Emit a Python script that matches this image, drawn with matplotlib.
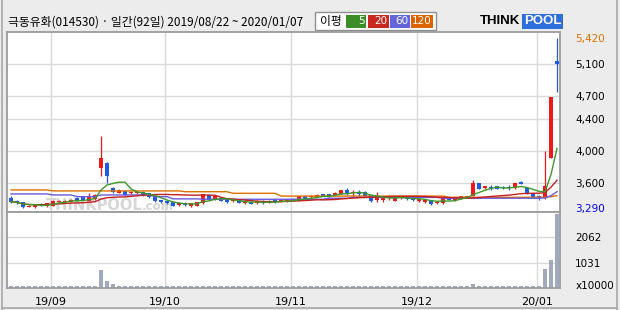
import pandas as pd
import matplotlib.pyplot as plt
from matplotlib.patches import Rectangle
from matplotlib.lines import Line2D

# 일봉 데이터 (2019/08/22 ~ 2020/01/07, 92일)
opens = [3405, 3375, 3355, 3300, 3300, 3330, 3305, 3310, 3360, 3365,
         3365, 3415, 3420, 3375, 3395, 3785, 3850, 3535, 3480, 3505,
         3470, 3470, 3490, 3470, 3435, 3385, 3375, 3355, 3320, 3345,
         3305, 3315, 3345, 3450, 3395, 3410, 3395, 3370, 3385, 3350,
         3365, 3345, 3375, 3350, 3385, 3365, 3365, 3400, 3375, 3435,
         3420, 3425, 3460, 3460, 3450, 3460, 3510, 3470, 3490, 3490,
         3450, 3385, 3385, 3405, 3375, 3405, 3420, 3405, 3370, 3365,
         3385, 3345, 3345, 3415, 3380, 3400, 3410, 3440, 3595, 3535,
         3555, 3560, 3555, 3550, 3535, 3615, 3535, 3470, 3440, 3420,
         3920, 5130]
highs = [3430, 3390, 3365, 3320, 3340, 3345, 3350, 3385, 3385, 3385,
         3395, 3420, 3425, 3470, 3455, 4195, 3870, 3545, 3520, 3515,
         3495, 3500, 3495, 3475, 3440, 3390, 3385, 3360, 3355, 3360,
         3350, 3360, 3465, 3455, 3435, 3415, 3400, 3390, 3390, 3380,
         3370, 3380, 3380, 3380, 3395, 3390, 3400, 3405, 3435, 3440,
         3445, 3455, 3465, 3465, 3485, 3515, 3535, 3510, 3510, 3495,
         3455, 3490, 3430, 3450, 3425, 3425, 3425, 3415, 3400, 3390,
         3390, 3375, 3410, 3420, 3420, 3435, 3440, 3640, 3600, 3565,
         3575, 3565, 3560, 3575, 3600, 3630, 3540, 3475, 3445, 4000,
         4685, 5420]
lows = [3350, 3335, 3290, 3295, 3290, 3310, 3295, 3305, 3355, 3360,
        3360, 3370, 3380, 3370, 3390, 3690, 3595, 3480, 3475, 3440,
        3465, 3465, 3430, 3410, 3365, 3350, 3335, 3310, 3315, 3315,
        3300, 3310, 3340, 3380, 3390, 3370, 3350, 3365, 3345, 3340,
        3330, 3340, 3340, 3345, 3350, 3360, 3360, 3370, 3370, 3390,
        3415, 3420, 3430, 3425, 3445, 3455, 3450, 3430, 3430, 3425,
        3365, 3365, 3355, 3385, 3370, 3395, 3390, 3375, 3365, 3345,
        3325, 3330, 3340, 3380, 3375, 3395, 3405, 3435, 3520, 3530,
        3510, 3520, 3530, 3510, 3530, 3585, 3455, 3415, 3385, 3395,
        3920, 4750]
closes = [3365, 3345, 3300, 3305, 3320, 3320, 3345, 3375, 3375, 3375,
          3385, 3375, 3385, 3435, 3450, 3910, 3690, 3490, 3510, 3450,
          3490, 3490, 3435, 3420, 3375, 3355, 3345, 3315, 3350, 3325,
          3345, 3355, 3460, 3385, 3430, 3375, 3355, 3385, 3350, 3365,
          3335, 3375, 3345, 3375, 3360, 3385, 3395, 3375, 3430, 3395,
          3440, 3450, 3435, 3430, 3480, 3510, 3470, 3490, 3460, 3430,
          3375, 3430, 3415, 3410, 3420, 3410, 3395, 3385, 3395, 3385,
          3330, 3355, 3405, 3385, 3415, 3430, 3435, 3595, 3525, 3560,
          3535, 3525, 3535, 3535, 3595, 3590, 3460, 3420, 3410, 3560,
          4685, 5100]
# 거래량 (x10000)
volumes = [50] * 15 + [718, 272, 150] + [50] * 59 + [160] + [50] * 11 + [760, 1124, 3040]
# 60일, 120일 이동평균
ma60 = ([3462] * 7 + [3449] * 4 + [3428] * 4 + [3449] * 9 + [3428] * 3 + [3400] * 5
        + [3395] * 21 + [3408] * 4 + [3418] * 15 + [3408] * 17 + [3412, 3440, 3490])
ma120 = ([3512] * 7 + [3500] * 22 + [3490] * 8 + [3470] * 8 + [3435] * 28
         + [3420] * 17 + [3428, 3440])

month_idx = [7, 26, 47, 68, 88]
month_labels = ["19/09", "19/10", "19/11", "19/12", "20/01"]
price_ticks = [5420, 5100, 4700, 4400, 4000, 3600, 3290]
price_grid = [5100, 4700, 4400, 4000, 3600]
vol_ticks = [1031, 2062]

W, H = 620, 310


def fx(x):
    return x / W


def fy(y):
    return 1 - y / H


df = pd.DataFrame({"open": opens, "high": highs, "low": lows, "close": closes, "volume": volumes})
df["ma5"] = df["close"].rolling(5, min_periods=1).mean()
df["ma20"] = df["close"].rolling(20, min_periods=1).mean()
df["ma60"] = ma60
df["ma120"] = ma120
idx = list(range(len(df)))

RED = "#f01818"
BLUE = "#1f5ae6"
GRID = "#d9d9d9"
EDGE = "#9c9c9c"

fig = plt.figure(figsize=(6.2, 3.1), dpi=100, facecolor="#ececec")
ax = fig.add_axes([fx(7), fy(212.3), fx(560) - fx(7), fy(32.3) - fy(212.3)])
axv = fig.add_axes([fx(7), fy(287.7), fx(560) - fx(7), fy(212.3) - fy(287.7)])

for a in (ax, axv):
    a.set_facecolor("white")
    a.set_xlim(-0.67, 91.5)
    for s in a.spines.values():
        s.set_color(EDGE)
        s.set_linewidth(1.3)
    for m in month_idx:
        a.axvline(m - 0.4, color=GRID, lw=1.0, zorder=0)

# 가격 차트
ax.set_ylim(3231, 5496)
for g in price_grid:
    ax.axhline(g, color=GRID, lw=1.0, zorder=0)

for i, r in df.iterrows():
    col = RED if r["close"] >= r["open"] else BLUE
    ax.vlines(i, r["low"], r["high"], color=col, lw=0.9, zorder=3)
    h = max(abs(r["close"] - r["open"]), 9)
    ax.bar(i, h, bottom=min(r["open"], r["close"]), width=0.7, color=col, zorder=3)

ax.plot(idx, df["ma120"], color="#e07000", lw=1.0, zorder=4)
ax.plot(idx, df["ma60"], color="#6a5ae0", lw=1.0, zorder=4)
ax.plot(idx, df["ma20"], color="#c42020", lw=1.0, zorder=4)
ax.plot(idx, df["ma5"], color="#3c9a28", lw=1.0, zorder=4)

ax.yaxis.tick_right()
ax.set_yticks(price_ticks)
ax.set_yticklabels([f"{v:,}" for v in price_ticks])
ax.tick_params(axis="y", length=0, pad=11, labelsize=7.5)
ax.tick_params(axis="x", length=0, labelbottom=False)
ax.set_xticks([])
tl = ax.get_yticklabels()
tl[0].set_color("#e07000")
tl[-1].set_color("#0000ee")

# 워터마크
ax.text(fx(46), fy(210), "THINKPOOL", transform=fig.transFigure, fontsize=10.5,
        fontweight="bold", color="#d6d6d6", zorder=1)
ax.text(fx(142), fy(210), ".com", transform=fig.transFigure, fontsize=8.5,
        fontweight="bold", color="#d6d6d6", zorder=1)

# 거래량 차트
axv.set_ylim(0, 3093)
for g in vol_ticks:
    axv.axhline(g, color=GRID, lw=1.0, zorder=0)
axv.bar(idx, df["volume"], width=0.72, color="#a0a9c0", zorder=2)
axv.yaxis.tick_right()
axv.set_yticks(vol_ticks)
axv.set_yticklabels([str(v) for v in vol_ticks])
axv.tick_params(axis="y", length=0, pad=11, labelsize=7.5)
axv.set_xticks([m - 0.4 for m in month_idx])
axv.set_xticklabels(month_labels)
axv.tick_params(axis="x", length=0, pad=7, labelsize=8)
fig.text(fx(576), fy(286), "x10000", fontsize=7.5, va="center", ha="left")

# 제목
fig.text(fx(8), fy(22), "극동유화(014530) · 일간(92일) 2019/08/22 ~ 2020/01/07",
         fontsize=8.5, va="center", ha="left", family=["Noto Sans CJK KR", "DejaVu Sans"])

# 이평 범례
fig.patches.append(Rectangle((fx(315), fy(30)), fx(436) - fx(315), fy(12.5) - fy(30),
                             transform=fig.transFigure, facecolor="white", edgecolor="#909090", lw=1))
fig.text(fx(320), fy(21.5), "이평", fontsize=8.5, va="center", ha="left",
         family=["Noto Sans CJK KR", "DejaVu Sans"])
legend_items = [("5", "#3c8c28", 346, 366), ("20", "#c8281e", 368, 389),
                ("60", "#6464dc", 390, 410), ("120", "#dc6400", 411, 433)]
for label, c, x0, x1 in legend_items:
    fig.patches.append(Rectangle((fx(x0), fy(28)), fx(x1) - fx(x0), fy(15) - fy(28),
                                 transform=fig.transFigure, facecolor=c, edgecolor="none"))
    fig.text(fx(x1 - 1.5), fy(21.5), label, fontsize=7.5, color="white", va="center", ha="right")

# 로고
fig.text(fx(480), fy(21.5), "THINK", fontsize=9.5, fontweight="bold", va="center", ha="left",
         family="Liberation Sans", color="black")
fig.text(fx(524), fy(21.5), "POOL", fontsize=9.5, fontweight="bold", va="center", ha="left",
         family="Liberation Sans", color="white",
         bbox=dict(boxstyle="square,pad=0.12", facecolor="#2f6fdc", edgecolor="none"))

# 바깥 테두리
for xs, ys in [((fx(2), fx(2)), (0, 1)), ((fx(617), fx(617)), (0, 1)),
               ((fx(2), fx(617)), (fy(308), fy(308)))]:
    fig.lines.append(Line2D(xs, ys, transform=fig.transFigure, color="#a8a8a8", lw=1.2))

plt.savefig("out.png", dpi=100, facecolor=fig.get_facecolor())
plt.close(fig)
